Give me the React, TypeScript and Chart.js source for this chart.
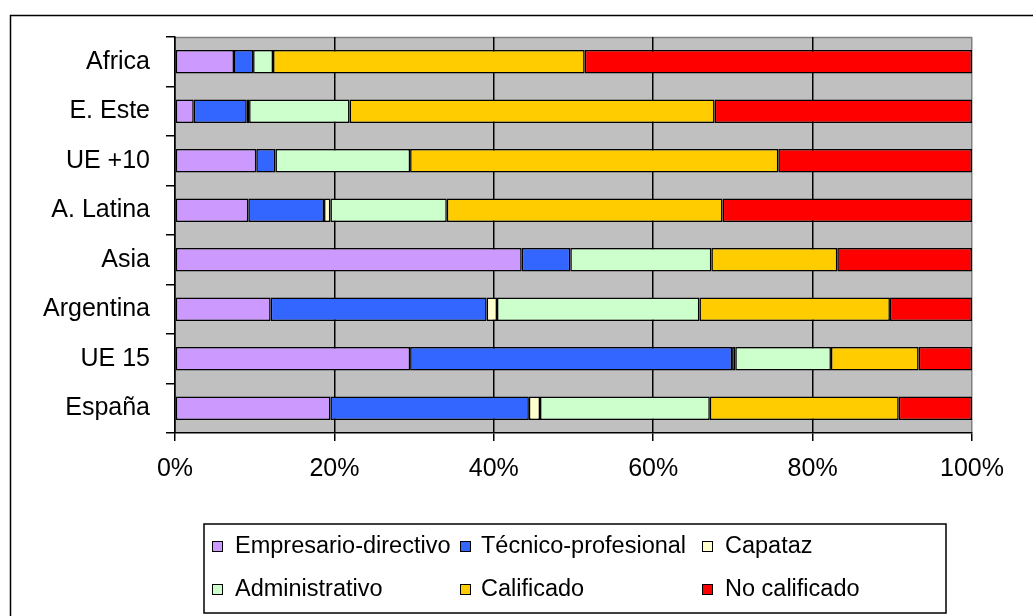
import React, { useEffect, useRef } from "react";
import { Chart, registerables } from "chart.js";

Chart.register(...registerables);

const categories = ["Africa", "E. Este", "UE +10", "A. Latina", "Asia", "Argentina", "UE 15", "España"];
const seriesNames = ["Empresario-directivo", "Técnico-profesional", "Capataz", "Administrativo", "Calificado", "No calificado"];
const empresario = [7.4, 2.35, 10.2, 9.2, 43.5, 12.0, 29.5, 19.5];
const tecnico = [2.4, 6.65, 2.4, 9.5, 6.1, 27.1, 40.4, 24.9];
const capataz = [0, 0.3, 0, 0.8, 0, 1.3, 0.4, 1.4];
const administrativo = [2.5, 12.6, 16.9, 14.6, 17.7, 25.4, 12.0, 21.3];
const calificado = [39.1, 45.8, 46.2, 34.6, 15.8, 23.9, 11.0, 23.7];
const noCalificado = [48.6, 32.3, 24.3, 31.3, 16.9, 10.3, 6.7, 9.2];
const xTicks = [0, 20, 40, 60, 80, 100];
const colors = ["#CC99FF", "#3366FF", "#FFFFCC", "#CCFFCC", "#FFCC00", "#FF0000"];

const FONT = "'Liberation Sans', Arial, sans-serif";

export default function App() {
  const ref = useRef<HTMLCanvasElement | null>(null);
  useEffect(() => {
    document.body.style.margin = "0";
    const canvas = ref.current;
    if (!canvas) return;
    const values = [empresario, tecnico, capataz, administrativo, calificado, noCalificado];

    const bgPlugin = {
      id: "bg",
      beforeDraw(chart: any) {
        const { ctx, chartArea: a } = chart;
        ctx.save();
        ctx.fillStyle = "#ffffff";
        ctx.fillRect(0, 0, chart.width, chart.height);
        ctx.fillStyle = "#C0C0C0";
        ctx.fillRect(a.left, a.top, a.right - a.left, a.bottom - a.top);
        ctx.strokeStyle = "#808080";
        ctx.lineWidth = 1.5;
        ctx.beginPath();
        ctx.moveTo(a.left, a.top + 0.5);
        ctx.lineTo(a.right, a.top + 0.5);
        ctx.stroke();
        // outer frame
        ctx.strokeStyle = "#000";
        ctx.lineWidth = 1.5;
        ctx.strokeRect(10.5, 15.5, 1200, 800);
        ctx.restore();
      },
      afterDraw(chart: any) {
        const { ctx } = chart;
        ctx.save();
        // legend box
        ctx.strokeStyle = "#000";
        ctx.lineWidth = 1.5;
        ctx.strokeRect(204, 524, 742, 89);
        const swX = [212, 460, 702];
        const txX = [235, 481, 725];
        const rowY = [546, 589];
        ctx.font = "23.5px " + FONT;
        ctx.textBaseline = "middle";
        ctx.textAlign = "left";
        seriesNames.forEach((name, i) => {
          const col = i % 3;
          const row = Math.floor(i / 3);
          const sx = swX[col];
          const sy = rowY[row] - 5;
          ctx.fillStyle = colors[i];
          ctx.fillRect(sx, sy, 10, 10);
          ctx.lineWidth = 1;
          ctx.strokeStyle = "#000";
          ctx.strokeRect(sx + 0.5, sy + 0.5, 10, 10);
          ctx.fillStyle = "#000";
          ctx.fillText(name, txX[col], rowY[row] + 1);
        });
        ctx.restore();
      },
    };

    const chart = new Chart(canvas, {
      type: "bar",
      data: {
        labels: categories,
        datasets: seriesNames.map((name, i) => ({
          label: name,
          data: values[i],
          backgroundColor: colors[i],
          borderColor: "#000",
          borderWidth: 1.5,
          borderSkipped: false,
          barPercentage: 0.47,
          categoryPercentage: 1,
        })),
      },
      options: {
        indexAxis: "y",
        responsive: false,
        animation: false,
        devicePixelRatio: 1,
        layout: { padding: { left: 0, top: 37, right: 61, bottom: 0 } },
        plugins: { legend: { display: false }, tooltip: { enabled: false } },
        scales: {
          x: {
            stacked: true,
            min: 0,
            max: 100,
            afterBuildTicks: (scale: any) => {
              scale.ticks = xTicks.map((v) => ({ value: v }));
            },
            afterFit: (scale: any) => {
              scale.height = 183;
            },
            ticks: {
              callback: (v: any) => v + "%",
              color: "#000",
              font: { family: FONT, size: 25 },
              padding: 13,
              maxRotation: 0,
            },
            grid: {
              color: (c: any) => (c.tick && c.tick.value === 100 ? "#808080" : "#000"),
              lineWidth: 1.5,
              tickColor: "#000",
              tickLength: 8,
              drawTicks: true,
            },
            border: { color: "#000", width: 1.5 },
          },
          y: {
            stacked: true,
            afterFit: (scale: any) => {
              scale.width = 175;
            },
            ticks: {
              color: "#000",
              font: { family: FONT, size: 25 },
              padding: 16,
            },
            grid: {
              drawOnChartArea: false,
              drawTicks: true,
              tickLength: 9,
              tickColor: "#000",
              lineWidth: 1.5,
              offset: true,
            },
            border: { color: "#000", width: 1.5 },
          },
        },
      },
      plugins: [bgPlugin],
    } as any);
    return () => chart.destroy();
  }, []);
  return (
    <div style={{ width: 1033, height: 616, position: "relative" }}>
      <canvas ref={ref} width={1033} height={616} style={{ display: "block" }} />
    </div>
  );
}
